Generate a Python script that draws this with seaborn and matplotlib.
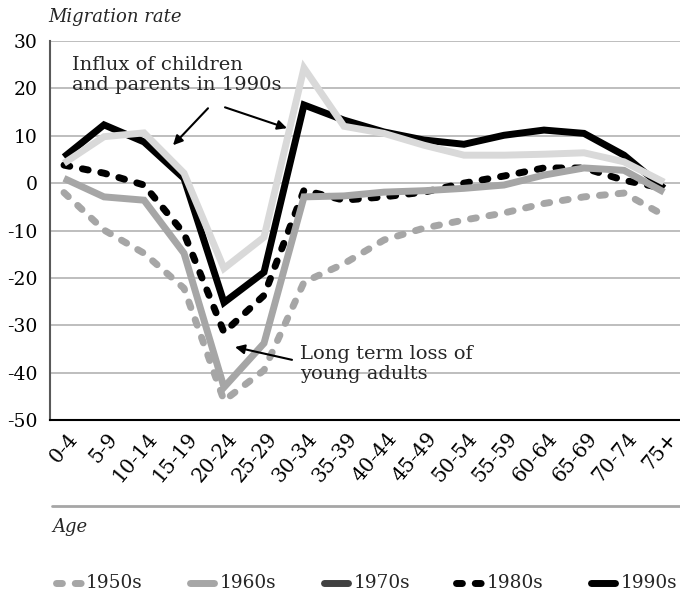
import matplotlib.pyplot as plt
import matplotlib.transforms as mtransforms
from matplotlib.lines import Line2D
import pandas as pd
import seaborn as sns

AGE_GROUPS = ["0-4", "5-9", "10-14", "15-19", "20-24", "25-29", "30-34", "35-39",
              "40-44", "45-49", "50-54", "55-59", "60-64", "65-69", "70-74", "75+"]

RATE_1950S = [-2.0, -9.9, -14.8, -22.2, -45.9, -39.5, -20.9, -17.0,
              -12.0, -9.5, -7.8, -6.3, -4.3, -2.9, -2.1, -6.8]
RATE_1960S = [1.0, -2.9, -3.6, -14.8, -43.1, -33.8, -2.9, -2.7,
              -1.9, -1.6, -1.1, -0.4, 1.7, 3.2, 2.7, -1.9]
RATE_1970S = [4.2, 9.8, 10.6, 2.1, -18.0, -11.4, 24.3, 12.0,
              10.5, 8.0, 5.9, 5.9, 6.1, 6.4, 4.5, 0.2]
RATE_1980S = [3.8, 2.1, -0.4, -10.6, -31.5, -23.7, -1.5, -3.6,
              -2.9, -1.9, 0.0, 1.5, 3.2, 3.2, 0.6, -1.1]
RATE_1990S = [5.5, 12.3, 8.7, 1.0, -25.2, -18.8, 16.5, 13.3,
              10.8, 9.1, 8.2, 10.1, 11.2, 10.5, 5.9, -1.1]

DECADES = ["1950s", "1960s", "1970s", "1980s", "1990s"]
Y_TICKS = [-50, -40, -30, -20, -10, 0, 10, 20, 30]

DOTTED = (0, (0.85, 1.85))
# (line colour, legend colour, dashed?)
STYLES = {
    "1950s": ("#a6a6a6", "#a6a6a6", True),
    "1960s": ("#a6a6a6", "#a6a6a6", False),
    "1970s": ("#d9d9d9", "#404040", False),
    "1980s": ("#000000", "#000000", True),
    "1990s": ("#000000", "#000000", False),
}

W, H = 680, 597


def build_frame() -> pd.DataFrame:
    values = [RATE_1950S, RATE_1960S, RATE_1970S, RATE_1980S, RATE_1990S]
    frames = []
    for decade, vals in zip(DECADES, values):
        frames.append(pd.DataFrame({"age": AGE_GROUPS, "rate": vals, "decade": decade}))
    return pd.concat(frames, ignore_index=True)


def px(x, y):
    # pixel position from the top-left corner -> figure fraction
    return x / W, 1 - y / H


def draw_legend(fig):
    # legend row laid out by hand under the "Age" rule
    starts = [52, 186, 320, 453, 587]
    y = 583
    for x0, decade in zip(starts, DECADES):
        _, lcolor, dashed = STYLES[decade]
        (xa, ya), (xb, _) = px(x0 + 3.5, y), px(x0 + (29.5 if dashed else 27.5), y)
        fig.add_artist(Line2D([xa, xb], [ya, ya], color=lcolor, lw=5,
                              linestyle=DOTTED if dashed else "-",
                              dash_capstyle="round", solid_capstyle="round",
                              transform=fig.transFigure))
        tx, ty = px(x0 + 34, y)
        fig.text(tx, ty, decade, fontsize=13.3, va="center", ha="left")


def main() -> None:
    sns.set_theme(style="white")
    plt.rcParams["font.family"] = ["DejaVu Serif"]

    df = build_frame()
    fig = plt.figure(figsize=(W / 100, H / 100), dpi=100)
    ax = fig.add_axes([50 / W, 1 - 420 / H, 630 / W, 379 / H])

    # later decades drawn first so the lighter lines sit on top
    for z, decade in enumerate(reversed(DECADES)):
        color, _, dashed = STYLES[decade]
        sub = df[df["decade"] == decade]
        sns.lineplot(data=sub, x="age", y="rate", ax=ax, sort=False, color=color,
                     lw=5, linestyle=DOTTED if dashed else "-",
                     dash_capstyle="round", solid_joinstyle="miter",
                     solid_capstyle="butt", zorder=3 + z)

    ax.set_xlim(-0.35, 15.4)
    ax.set_ylim(-50, 30)
    ax.set_yticks(Y_TICKS)
    ax.set_yticklabels([str(v) for v in Y_TICKS])
    ax.yaxis.grid(True, color="#b3b3b3", lw=1.2)
    ax.set_axisbelow(True)
    ax.set_xlabel("")
    ax.set_ylabel("")

    for side in ["top", "right"]:
        ax.spines[side].set_visible(False)
    ax.spines["left"].set_color("#595959")
    ax.spines["left"].set_linewidth(1.5)
    ax.spines["bottom"].set_color("#000000")
    ax.spines["bottom"].set_linewidth(1.5)
    ax.spines["bottom"].set_zorder(10)

    ax.tick_params(axis="y", length=0, pad=9, labelsize=13.5, colors="#000000")
    ax.tick_params(axis="x", direction="in", length=9, width=1, color="#999999",
                   pad=11, labelsize=14.5, labelcolor="#000000")
    offset = mtransforms.ScaledTranslation(7 / 72, 0, fig.dpi_scale_trans)
    for lab in ax.get_xticklabels():
        lab.set_rotation(50)
        lab.set_ha("right")
        lab.set_va("center")
        lab.set_rotation_mode("anchor")
        lab.set_transform(lab.get_transform() + offset)

    arrow = dict(arrowstyle="-|>", color="black", lw=1.5, mutation_scale=14,
                 shrinkA=0, shrinkB=0)
    ax.text(0.2, 26.8, "Influx of children\nand parents in 1990s", fontsize=14,
            va="top", ha="left", linespacing=1.1, zorder=20)
    ax.annotate("", xy=(2.725, 8.0), xytext=(3.6, 15.8), arrowprops=arrow, zorder=20)
    ax.annotate("", xy=(5.575, 11.6), xytext=(4.025, 16.0), arrowprops=arrow, zorder=20)
    ax.text(5.9, -34.2, "Long term loss of\nyoung adults", fontsize=14,
            va="top", ha="left", linespacing=1.1, zorder=20)
    ax.annotate("", xy=(4.275, -34.6), xytext=(5.7, -37.3), arrowprops=arrow, zorder=20)

    fig.text(*px(48, 17), "Migration rate", fontsize=13, style="italic",
             va="center", ha="left")
    fig.text(*px(52, 527), "Age", fontsize=13, style="italic",
             va="center", ha="left")
    (xa, ya), (xb, _) = px(52, 506), px(W, 506)
    fig.add_artist(Line2D([xa, xb], [ya, ya], color="#a6a6a6", lw=2,
                          transform=fig.transFigure))

    draw_legend(fig)

    fig.savefig("out.png", dpi=100)
    plt.close(fig)


if __name__ == "__main__":
    main()
